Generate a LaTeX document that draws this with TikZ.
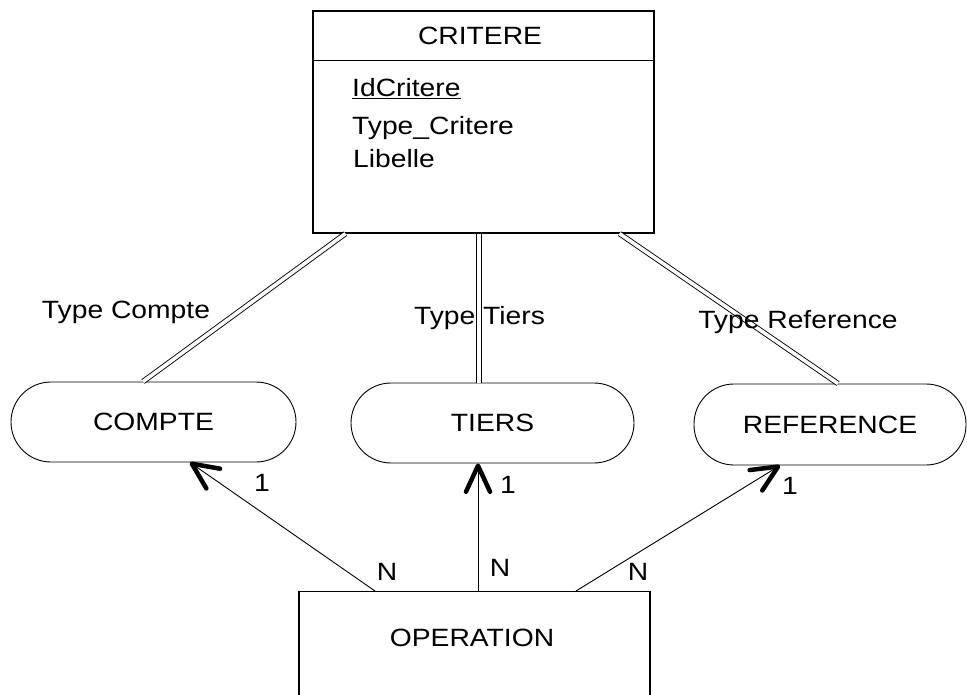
\documentclass[tikz,border=0pt]{standalone}
\usepackage{fontspec}
\setmainfont{Liberation Sans}[FakeStretch=1.13]
\usepackage{tikz}
\usetikzlibrary{arrows.meta}
\newcommand{\erfont}{\fontsize{25}{30}\selectfont}

\begin{document}
\begin{tikzpicture}[x=1pt, y=-1pt, font=\erfont,
  entity/.style={draw, line width=1.2pt, inner sep=0pt},
  stadium/.style={draw, line width=0.9pt, rounded corners=40pt, minimum height=80pt, inner sep=0pt},
  link/.style={double, double distance=3.6pt, line width=0.9pt},
  card/.style={-{Straight Barb[length=26pt, width=24pt, line width=4.5pt, round]}, line width=0.9pt},
  lbl/.style={inner sep=0pt}]
\clip (0,0) rectangle (967,695);

% entities
\node[entity, minimum width=341pt, minimum height=222pt] (critere) at (483.5,122) {};
\draw[line width=1.2pt] ([yshift=-50pt]critere.north west) -- ([yshift=-50pt]critere.north east);
\node[lbl, anchor=base] (critere-title) at (480,45) {CRITERE};
\node[lbl, anchor=base west] (idcritere) at (352,97) {\underline{IdCritere}};
\node[lbl, anchor=base west] (typecritere) at (352,135) {Type\_Critere};
\node[lbl, anchor=base west] (libelle) at (353,168) {Libelle};

\node[entity, minimum width=351pt, minimum height=200pt, anchor=north] (operation) at (474.5,591) {};
\node[lbl] (operation-title) at (472,638) {OPERATION};

% types
\node[stadium, minimum width=285pt] (compte) at (153.5,422) {COMPTE};
\node[stadium, minimum width=283pt] (tiers) at (492.5,423) {TIERS};
\node[stadium, minimum width=272pt, minimum height=81pt] (reference) at (830,424.5) {REFERENCE};

\draw[link] ([xshift=-138pt]critere.south) -- ([xshift=-10.5pt]compte.north);
\draw[link] ([xshift=-4.5pt]critere.south) -- ([xshift=-13.5pt]tiers.north);
\draw[link] ([xshift=136pt]critere.south) -- ([xshift=8pt]reference.north);
\node[lbl, anchor=base] (type-compte) at (126,318) {Type Compte};
\node[lbl, anchor=base] (type-tiers) at (479.5,324) {Type Tiers};
\node[lbl, anchor=base] (type-reference) at (798,328) {Type Reference};

% cardinalities
\draw[card] ([xshift=-99.5pt]operation.north) -- ([xshift=36.5pt]compte.south);
\draw[card] ([xshift=3.5pt]operation.north) -- ([xshift=-14.5pt]tiers.south);
\draw[card] ([xshift=101.5pt]operation.north) -- ([xshift=-50pt]reference.south);
\node[lbl] (n-compte) at (387,572) {N};
\node[lbl] (n-tiers) at (500,568) {N};
\node[lbl] (n-reference) at (638,572) {N};
\node[lbl] (one-compte) at (262,483) {1};
\node[lbl] (one-tiers) at (508,485) {1};
\node[lbl] (one-reference) at (790,486) {1};
\end{tikzpicture}
\end{document}
